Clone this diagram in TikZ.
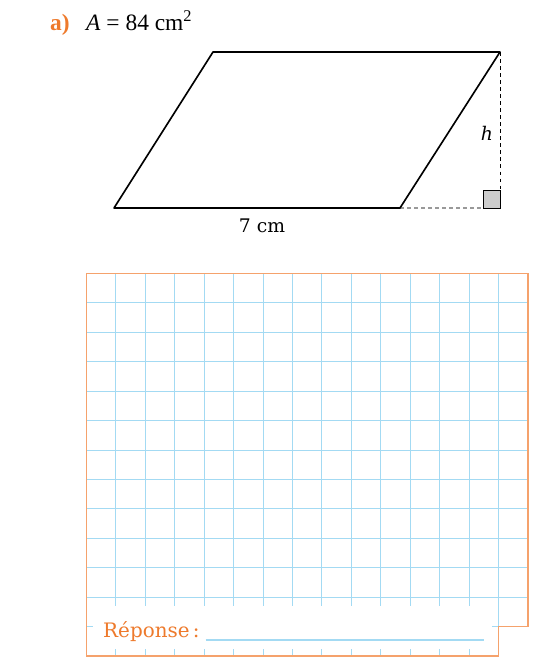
\documentclass[tikz,border=0pt]{standalone}
\usepackage{fontspec}
\setmainfont{DejaVu Serif}
\newfontfamily\titlefont{Liberation Serif}
\usetikzlibrary{positioning}
\definecolor{orangeA}{HTML}{EE7A2C}
\definecolor{frameor}{HTML}{F5A26C}
\definecolor{gridbl}{HTML}{A3DAF3}
\tikzset{
  gridline/.style={gridbl, line width=0.8pt},
  dimlabel/.style={font=\fontsize{16}{18}\selectfont, inner sep=1pt},
}
\begin{document}
\begin{tikzpicture}[x=0.03cm,y=-0.03cm]
  \useasboundingbox (0,0) rectangle (533,666);
  % heading
  \node[anchor=base west, text=orangeA, font=\titlefont\bfseries\fontsize{20}{22}\selectfont, inner sep=0pt] (ex) at (50,30) {a)};
  \node[anchor=base west, font=\titlefont\fontsize{20}{22}\selectfont, inner sep=0pt] (area) at (86,30) {\textit{A} = 84 cm\textsuperscript{2}};
  % parallelogram
  \coordinate (bl) at (114,208);
  \coordinate (br) at (400,208);
  \coordinate (tr) at (500,52);
  \coordinate (tl) at (213,52);
  \coordinate (ft) at (500,208);
  \draw[line width=1.2pt, gray!80, dashed] (br) -- (ft);
  \draw[dashed, line width=0.6pt] (tr) -- (ft);
  \draw[fill=gray!40, line width=0.8pt] (ft) rectangle ++(-17,-18);
  \draw[line width=1.4pt, line join=round] (bl) -- (br) -- (tr) -- (tl) -- cycle;
  \node[dimlabel] (h) at (487,133) {\textit{h}};
  \node[dimlabel] (base) at (262,226) {7 cm};
  % squared paper
  \foreach \i in {1,...,14}
    \draw[gridline] ({86.5+\i*29.43},273.5) -- ({86.5+\i*29.43},656);
  \foreach \j in {1,...,12}
    \draw[gridline] (86.5,{273.5+\j*29.43}) -- (528,{273.5+\j*29.43});
  \fill[white] (93,606) rectangle (492,649);
  \draw[frameor, line width=1pt] (86.5,273.5) -- (528,273.5) -- (528,626.7)
    -- (498.5,626.7) -- (498.5,656) -- (86.5,656) -- cycle;
  % answer line
  \node[anchor=base west, text=orangeA, font=\fontsize{17}{19}\selectfont, inner sep=0pt] (rep) at (103,637) {Réponse\,:};
  \coordinate (lineend) at (484,640);
  \draw[gridbl, line width=1pt] (rep.base east) ++(5pt,3) -- (lineend);
\end{tikzpicture}
\end{document}
